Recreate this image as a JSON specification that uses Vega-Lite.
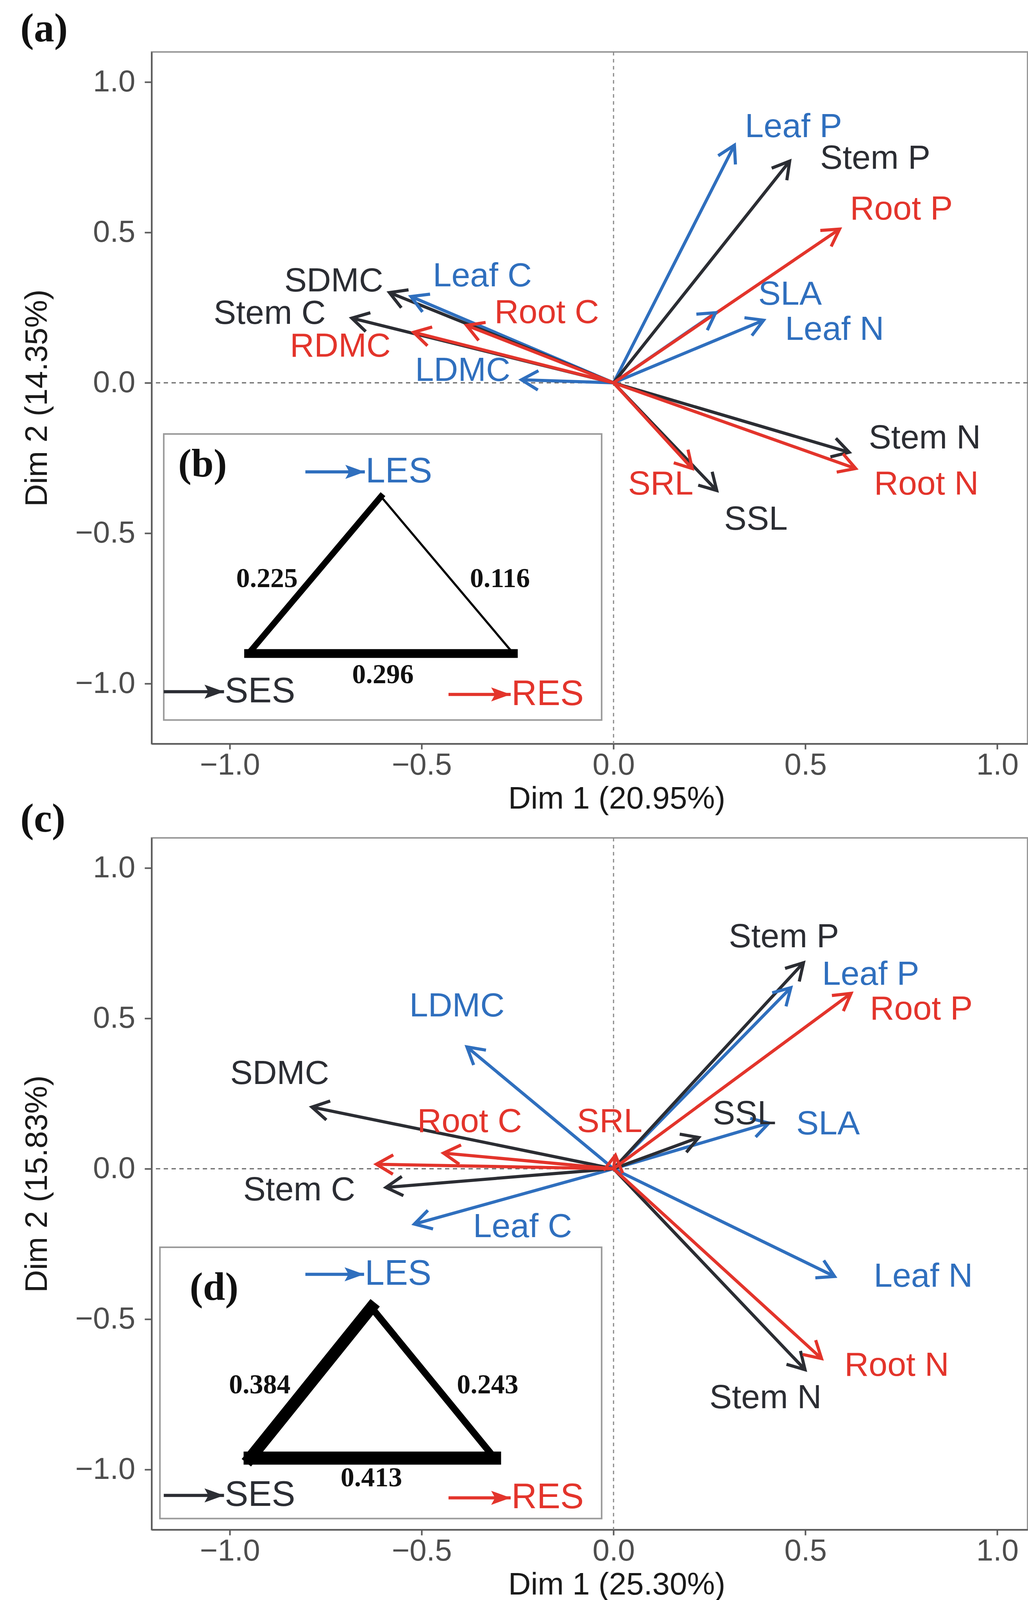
{
  "$schema": "https://vega.github.io/schema/vega-lite/v6.json",
  "background": "white",
  "padding": {"left": 50, "top": 20, "right": 0, "bottom": 0},
  "bounds": "flush",
  "spacing": 241,
  "config": {
    "view": {"stroke": "#9a9a9a", "strokeWidth": 4},
    "axis": {"grid": false, "labelFont": "Liberation Sans", "labelFontSize": 78, "labelColor": "#4d4d4d", "titleFont": "Liberation Sans", "titleFontSize": 80, "titleFontWeight": "normal", "titleColor": "#1a1a1a", "tickColor": "#5a5a5a", "tickWidth": 4, "domainColor": "#5a5a5a", "domainWidth": 4, "labelFlush": false},
    "axisX": {"labelPadding": 2, "titlePadding": 8, "tickSize": 14},
    "axisY": {"labelPadding": 24, "titlePadding": 56, "tickSize": 18},
    "title": {"font": "Liberation Serif", "fontSize": 104, "fontWeight": "bold", "color": "#111111", "anchor": "start", "frame": "group", "baseline": "bottom", "dx": -336}
  },
  "datasets": {
    "arrowsA": [
      {"name": "Leaf P", "lab": "Leaf P", "org": "Leaf", "x": 0.315, "y": 0.790, "lx": 0.469, "ly": 0.851},
      {"name": "SLA", "lab": "SLA", "org": "Leaf", "x": 0.266, "y": 0.233, "lx": 0.46, "ly": 0.294},
      {"name": "Leaf N", "lab": "Leaf N", "org": "Leaf", "x": 0.391, "y": 0.208, "lx": 0.576, "ly": 0.176},
      {"name": "Leaf C", "lab": "Leaf C", "org": "Leaf", "x": -0.528, "y": 0.287, "lx": -0.342, "ly": 0.355},
      {"name": "LDMC", "lab": "LDMC", "org": "Leaf", "x": -0.240, "y": 0.010, "lx": -0.393, "ly": 0.040},
      {"name": "Stem P", "lab": "Stem P", "org": "Stem", "x": 0.459, "y": 0.737, "lx": 0.682, "ly": 0.746},
      {"name": "SDMC", "lab": "SDMC", "org": "Stem", "x": -0.584, "y": 0.300, "lx": -0.729, "ly": 0.338},
      {"name": "Stem C", "lab": "Stem C", "org": "Stem", "x": -0.682, "y": 0.215, "lx": -0.896, "ly": 0.230},
      {"name": "Stem N", "lab": "Stem N", "org": "Stem", "x": 0.614, "y": -0.231, "lx": 0.811, "ly": -0.184},
      {"name": "SSL", "lab": "SSL", "org": "Stem", "x": 0.269, "y": -0.358, "lx": 0.371, "ly": -0.455},
      {"name": "Root P", "lab": "Root P", "org": "Root", "x": 0.589, "y": 0.511, "lx": 0.75, "ly": 0.576},
      {"name": "Root C", "lab": "Root C", "org": "Root", "x": -0.383, "y": 0.191, "lx": -0.174, "ly": 0.233},
      {"name": "RDMC", "lab": "RDMC", "org": "Root", "x": -0.521, "y": 0.168, "lx": -0.712, "ly": 0.121},
      {"name": "Root N", "lab": "Root N", "org": "Root", "x": 0.631, "y": -0.285, "lx": 0.815, "ly": -0.338},
      {"name": "SRL", "lab": "SRL", "org": "Root", "x": 0.205, "y": -0.285, "lx": 0.123, "ly": -0.338}
    ],
    "arrowsC": [
      {"name": "Leaf P", "lab": "Leaf P", "org": "Leaf", "x": 0.462, "y": 0.602, "lx": 0.670, "ly": 0.645},
      {"name": "SLA", "lab": "SLA", "org": "Leaf", "x": 0.405, "y": 0.152, "lx": 0.559, "ly": 0.148},
      {"name": "LDMC", "lab": "LDMC", "org": "Leaf", "x": -0.382, "y": 0.405, "lx": -0.408, "ly": 0.540},
      {"name": "Leaf C", "lab": "Leaf C", "org": "Leaf", "x": -0.519, "y": -0.184, "lx": -0.237, "ly": -0.193},
      {"name": "Leaf N", "lab": "Leaf N", "org": "Leaf", "x": 0.576, "y": -0.358, "lx": 0.807, "ly": -0.358},
      {"name": "Stem P", "lab": "Stem P", "org": "Stem", "x": 0.495, "y": 0.685, "lx": 0.444, "ly": 0.770},
      {"name": "SSL", "lab": "SSL", "org": "Stem", "x": 0.222, "y": 0.104, "lx": 0.341, "ly": 0.182},
      {"name": "SDMC", "lab": "SDMC", "org": "Stem", "x": -0.786, "y": 0.205, "lx": -0.870, "ly": 0.316},
      {"name": "Stem C", "lab": "Stem C", "org": "Stem", "x": -0.593, "y": -0.062, "lx": -0.819, "ly": -0.071},
      {"name": "Stem N", "lab": "Stem N", "org": "Stem", "x": 0.499, "y": -0.668, "lx": 0.396, "ly": -0.762},
      {"name": "Root P", "lab": "Root P", "org": "Root", "x": 0.619, "y": 0.583, "lx": 0.802, "ly": 0.530},
      {"name": "SRL", "lab": "SRL", "org": "Root", "x": 0.005, "y": 0.045, "lx": -0.010, "ly": 0.156},
      {"name": "Root C", "lab": "Root C", "org": "Root", "x": -0.443, "y": 0.052, "lx": -0.375, "ly": 0.156},
      {"name": "RDMC", "lab": "", "org": "Root", "x": -0.618, "y": 0.015, "lx": -0.618, "ly": 0.015},
      {"name": "Root N", "lab": "Root N", "org": "Root", "x": 0.542, "y": -0.631, "lx": 0.738, "ly": -0.654}
    ],
    "boxA": [{"x1": -1.172, "x2": -0.031, "y1": -1.121, "y2": -0.170}],
    "boxC": [{"x1": -1.182, "x2": -0.031, "y1": -1.163, "y2": -0.261}],
    "triA": [
      {"x": -0.606, "y": -0.378, "x2": -0.951, "y2": -0.900, "v": 0.225},
      {"x": -0.606, "y": -0.378, "x2": -0.261, "y2": -0.900, "v": 0.116},
      {"x": -0.951, "y": -0.900, "x2": -0.261, "y2": -0.900, "v": 0.296}
    ],
    "triC": [
      {"x": -0.631, "y": -0.461, "x2": -0.947, "y2": -0.962, "v": 0.384},
      {"x": -0.631, "y": -0.461, "x2": -0.310, "y2": -0.962, "v": 0.243},
      {"x": -0.947, "y": -0.962, "x2": -0.310, "y2": -0.962, "v": 0.413}
    ],
    "numA": [
      {"x": -0.903, "y": -0.652, "t": "0.225"},
      {"x": -0.296, "y": -0.652, "t": "0.116"},
      {"x": -0.601, "y": -0.972, "t": "0.296"}
    ],
    "numC": [
      {"x": -0.922, "y": -0.720, "t": "0.384"},
      {"x": -0.328, "y": -0.720, "t": "0.243"},
      {"x": -0.631, "y": -1.028, "t": "0.413"}
    ],
    "tagA": [{"x": -1.071, "y": -0.272, "t": "(b)"}],
    "tagC": [{"x": -1.041, "y": -0.396, "t": "(d)"}],
    "legA": [
      {"sys": "LES", "org": "Leaf", "x1": -0.803, "x2": -0.648, "y": -0.296},
      {"sys": "SES", "org": "Stem", "x1": -1.172, "x2": -1.015, "y": -1.027},
      {"sys": "RES", "org": "Root", "x1": -0.430, "x2": -0.268, "y": -1.036}
    ],
    "legC": [
      {"sys": "LES", "org": "Leaf", "x1": -0.803, "x2": -0.650, "y": -0.351},
      {"sys": "SES", "org": "Stem", "x1": -1.172, "x2": -1.015, "y": -1.086},
      {"sys": "RES", "org": "Root", "x1": -0.430, "x2": -0.268, "y": -1.094}
    ],
    "zero": [{"v": 0}]
  },
  "vconcat": [
    {
      "width": 2242,
      "height": 1771,
      "title": {"text": "(a)", "offset": 4},
      "layer": [
        {
          "data": {"name": "zero"},
          "mark": {"type": "rule", "color": "#666666", "strokeWidth": 3, "strokeDash": [11, 9]},
          "encoding": {"y": {"field": "v", "type": "quantitative", "scale": {"domain": [-1.2, 1.1], "nice": false, "zero": false}, "axis": {"title": "Dim 2 (14.35%)", "values": [-1, -0.5, 0, 0.5, 1], "format": ".1f"}}}
        },
        {
          "data": {"name": "zero"},
          "mark": {"type": "rule", "color": "#8a8a8a", "strokeWidth": 3, "strokeDash": [9, 9]},
          "encoding": {"x": {"field": "v", "type": "quantitative", "scale": {"domain": [-1.2037, 1.079], "nice": false, "zero": false}, "axis": {"title": "Dim 1 (20.95%)", "values": [-1, -0.5, 0, 0.5, 1], "format": ".1f", "titleX": 1190}}}
        },
        {
          "data": {"name": "boxA"},
          "mark": {"type": "rect", "fill": "white", "stroke": "#9a9a9a", "strokeWidth": 4},
          "encoding": {
            "x": {"field": "x1", "type": "quantitative"},
            "x2": {"field": "x2"},
            "y": {"field": "y1", "type": "quantitative"},
            "y2": {"field": "y2"}
          }
        },
        {
          "data": {"name": "triA"},
          "mark": {"type": "rule", "color": "#000000", "strokeCap": "square"},
          "encoding": {
            "x": {"field": "x", "type": "quantitative"},
            "x2": {"field": "x2"},
            "y": {"field": "y", "type": "quantitative"},
            "y2": {"field": "y2"},
            "size": {"field": "v", "type": "quantitative", "scale": {"domain": [0.1, 0.42], "range": [4, 34], "zero": false}, "legend": null}
          }
        },
        {
          "data": {"name": "numA"},
          "mark": {"type": "text", "font": "Liberation Serif", "fontWeight": "bold", "color": "#111111", "align": "center", "baseline": "middle", "fontSize": 70},
          "encoding": {
            "x": {"field": "x", "type": "quantitative"},
            "y": {"field": "y", "type": "quantitative"},
            "text": {"field": "t", "type": "nominal"}
          }
        },
        {
          "data": {"name": "tagA"},
          "mark": {"type": "text", "font": "Liberation Serif", "fontWeight": "bold", "color": "#111111", "align": "center", "baseline": "middle", "fontSize": 102},
          "encoding": {
            "x": {"field": "x", "type": "quantitative"},
            "y": {"field": "y", "type": "quantitative"},
            "text": {"field": "t", "type": "nominal"}
          }
        },
        {
          "data": {"name": "legA"},
          "mark": {"type": "rule", "strokeWidth": 8},
          "encoding": {
            "x": {"field": "x1", "type": "quantitative"},
            "x2": {"field": "x2"},
            "y": {"field": "y", "type": "quantitative"},
            "color": {"field": "org", "type": "nominal", "scale": {"domain": ["Leaf", "Stem", "Root"], "range": ["#2f6fbe", "#2b2d33", "#e3342b"]}, "legend": null}
          }
        },
        {
          "data": {"name": "legA"},
          "mark": {"type": "point", "filled": true, "opacity": 1, "shape": "M0,0L-1,-0.36L-0.8,0L-1,0.36Z", "size": 10000},
          "encoding": {
            "x": {"field": "x2", "type": "quantitative"},
            "y": {"field": "y", "type": "quantitative"},
            "color": {"field": "org", "type": "nominal", "legend": null}
          }
        },
        {
          "data": {"name": "legA"},
          "mark": {"type": "text", "font": "Liberation Sans", "fontSize": 90, "align": "left", "baseline": "middle", "dx": 2},
          "encoding": {
            "x": {"field": "x2", "type": "quantitative"},
            "y": {"field": "y", "type": "quantitative"},
            "text": {"field": "sys", "type": "nominal"},
            "color": {"field": "org", "type": "nominal", "legend": null}
          }
        },
        {
          "data": {"name": "arrowsA"},
          "mark": {"type": "rule", "strokeWidth": 8},
          "encoding": {
            "x": {"field": "x", "type": "quantitative"},
            "x2": {"datum": 0},
            "y": {"field": "y", "type": "quantitative"},
            "y2": {"datum": 0},
            "color": {"field": "org", "type": "nominal", "legend": null}
          }
        },
        {
          "data": {"name": "arrowsA"},
          "transform": [{"calculate": "atan2(datum.x, datum.y * 0.781) * 180 / PI", "as": "ang"}],
          "mark": {"type": "point", "filled": false, "opacity": 1, "strokeWidth": 8, "strokeJoin": "miter", "shape": "M-0.55,0.95L0,0L0.55,0.95", "size": 8100},
          "encoding": {
            "x": {"field": "x", "type": "quantitative"},
            "y": {"field": "y", "type": "quantitative"},
            "angle": {"field": "ang", "type": "quantitative", "scale": null},
            "color": {"field": "org", "type": "nominal", "legend": null}
          }
        },
        {
          "data": {"name": "arrowsA"},
          "mark": {"type": "text", "font": "Liberation Sans", "fontSize": 86, "align": "center", "baseline": "middle"},
          "encoding": {
            "x": {"field": "lx", "type": "quantitative"},
            "y": {"field": "ly", "type": "quantitative"},
            "text": {"field": "lab", "type": "nominal"},
            "color": {"field": "org", "type": "nominal", "legend": null}
          }
        }
      ]
    },
    {
      "width": 2242,
      "height": 1771,
      "title": {"text": "(c)", "offset": -7},
      "layer": [
        {
          "data": {"name": "zero"},
          "mark": {"type": "rule", "color": "#666666", "strokeWidth": 3, "strokeDash": [11, 9]},
          "encoding": {"y": {"field": "v", "type": "quantitative", "scale": {"domain": [-1.2, 1.1], "nice": false, "zero": false}, "axis": {"title": "Dim 2 (15.83%)", "values": [-1, -0.5, 0, 0.5, 1], "format": ".1f"}}}
        },
        {
          "data": {"name": "zero"},
          "mark": {"type": "rule", "color": "#8a8a8a", "strokeWidth": 3, "strokeDash": [9, 9]},
          "encoding": {"x": {"field": "v", "type": "quantitative", "scale": {"domain": [-1.2037, 1.079], "nice": false, "zero": false}, "axis": {"title": "Dim 1 (25.30%)", "values": [-1, -0.5, 0, 0.5, 1], "format": ".1f", "titleX": 1190}}}
        },
        {
          "data": {"name": "boxC"},
          "mark": {"type": "rect", "fill": "white", "stroke": "#9a9a9a", "strokeWidth": 4},
          "encoding": {
            "x": {"field": "x1", "type": "quantitative"},
            "x2": {"field": "x2"},
            "y": {"field": "y1", "type": "quantitative"},
            "y2": {"field": "y2"}
          }
        },
        {
          "data": {"name": "triC"},
          "mark": {"type": "rule", "color": "#000000", "strokeCap": "square"},
          "encoding": {
            "x": {"field": "x", "type": "quantitative"},
            "x2": {"field": "x2"},
            "y": {"field": "y", "type": "quantitative"},
            "y2": {"field": "y2"},
            "size": {"field": "v", "type": "quantitative", "scale": {"domain": [0.1, 0.42], "range": [4, 34], "zero": false}, "legend": null}
          }
        },
        {
          "data": {"name": "numC"},
          "mark": {"type": "text", "font": "Liberation Serif", "fontWeight": "bold", "color": "#111111", "align": "center", "baseline": "middle", "fontSize": 70},
          "encoding": {
            "x": {"field": "x", "type": "quantitative"},
            "y": {"field": "y", "type": "quantitative"},
            "text": {"field": "t", "type": "nominal"}
          }
        },
        {
          "data": {"name": "tagC"},
          "mark": {"type": "text", "font": "Liberation Serif", "fontWeight": "bold", "color": "#111111", "align": "center", "baseline": "middle", "fontSize": 102},
          "encoding": {
            "x": {"field": "x", "type": "quantitative"},
            "y": {"field": "y", "type": "quantitative"},
            "text": {"field": "t", "type": "nominal"}
          }
        },
        {
          "data": {"name": "legC"},
          "mark": {"type": "rule", "strokeWidth": 8},
          "encoding": {
            "x": {"field": "x1", "type": "quantitative"},
            "x2": {"field": "x2"},
            "y": {"field": "y", "type": "quantitative"},
            "color": {"field": "org", "type": "nominal", "scale": {"domain": ["Leaf", "Stem", "Root"], "range": ["#2f6fbe", "#2b2d33", "#e3342b"]}, "legend": null}
          }
        },
        {
          "data": {"name": "legC"},
          "mark": {"type": "point", "filled": true, "opacity": 1, "shape": "M0,0L-1,-0.36L-0.8,0L-1,0.36Z", "size": 10000},
          "encoding": {
            "x": {"field": "x2", "type": "quantitative"},
            "y": {"field": "y", "type": "quantitative"},
            "color": {"field": "org", "type": "nominal", "legend": null}
          }
        },
        {
          "data": {"name": "legC"},
          "mark": {"type": "text", "font": "Liberation Sans", "fontSize": 90, "align": "left", "baseline": "middle", "dx": 2},
          "encoding": {
            "x": {"field": "x2", "type": "quantitative"},
            "y": {"field": "y", "type": "quantitative"},
            "text": {"field": "sys", "type": "nominal"},
            "color": {"field": "org", "type": "nominal", "legend": null}
          }
        },
        {
          "data": {"name": "arrowsC"},
          "mark": {"type": "rule", "strokeWidth": 8},
          "encoding": {
            "x": {"field": "x", "type": "quantitative"},
            "x2": {"datum": 0},
            "y": {"field": "y", "type": "quantitative"},
            "y2": {"datum": 0},
            "color": {"field": "org", "type": "nominal", "legend": null}
          }
        },
        {
          "data": {"name": "arrowsC"},
          "transform": [{"calculate": "atan2(datum.x, datum.y * 0.781) * 180 / PI", "as": "ang"}],
          "mark": {"type": "point", "filled": false, "opacity": 1, "strokeWidth": 8, "strokeJoin": "miter", "shape": "M-0.55,0.95L0,0L0.55,0.95", "size": 8100},
          "encoding": {
            "x": {"field": "x", "type": "quantitative"},
            "y": {"field": "y", "type": "quantitative"},
            "angle": {"field": "ang", "type": "quantitative", "scale": null},
            "color": {"field": "org", "type": "nominal", "legend": null}
          }
        },
        {
          "data": {"name": "arrowsC"},
          "mark": {"type": "text", "font": "Liberation Sans", "fontSize": 86, "align": "center", "baseline": "middle"},
          "encoding": {
            "x": {"field": "lx", "type": "quantitative"},
            "y": {"field": "ly", "type": "quantitative"},
            "text": {"field": "lab", "type": "nominal"},
            "color": {"field": "org", "type": "nominal", "legend": null}
          }
        }
      ]
    }
  ]
}
